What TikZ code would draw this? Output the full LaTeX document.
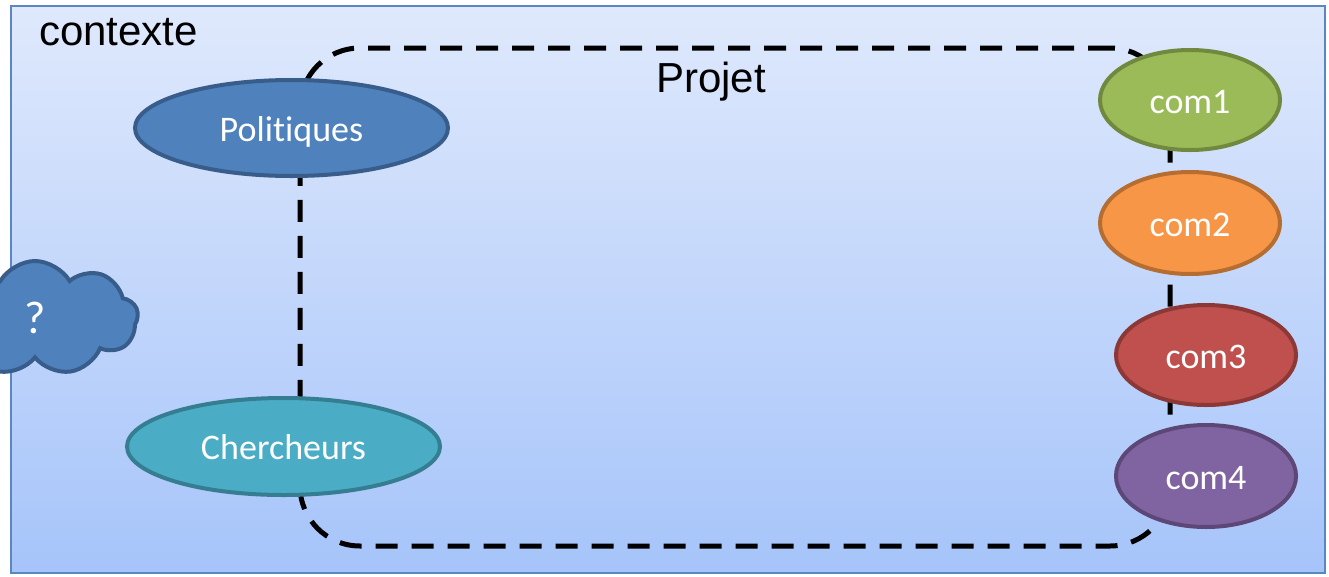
\documentclass[tikz,border=0pt]{standalone}
\usepackage{fontspec}
\setmainfont{Liberation Sans}
\newfontfamily\carlito[Ligatures=NoCommon]{Carlito}
\usetikzlibrary{shapes.geometric,shapes.symbols}
\definecolor{ctxtop}{HTML}{DFE9FC}
\definecolor{ctxbot}{HTML}{A6C4FA}
\definecolor{ctxline}{HTML}{5A86C2}
\definecolor{polfill}{HTML}{4F81BD}
\definecolor{polline}{HTML}{385D8A}
\definecolor{chefill}{HTML}{4BACC6}
\definecolor{cheline}{HTML}{357D91}
\definecolor{c1fill}{HTML}{9BBB59}
\definecolor{c1line}{HTML}{71893F}
\definecolor{c2fill}{HTML}{F79646}
\definecolor{c2line}{HTML}{B66D31}
\definecolor{c3fill}{HTML}{C0504D}
\definecolor{c3line}{HTML}{8C3836}
\definecolor{c4fill}{HTML}{8064A2}
\definecolor{c4line}{HTML}{5C4776}
\tikzset{
  ctxbox/.style={rectangle, draw=ctxline, line width=1.5pt, top color=ctxtop, bottom color=ctxbot, inner sep=0pt},
  bigtext/.style={font=\fontsize{42}{48}\selectfont, text=black, inner sep=0pt},
  projbox/.style={rectangle, draw=black, line width=5pt, rounded corners=60pt, dash pattern=on 22pt off 14pt, inner sep=0pt},
  oval/.style={ellipse, line width=4pt, inner sep=0pt, text=white, text height=26pt, text depth=0pt, font=\carlito\fontsize{36}{40}\selectfont},
  cloudnode/.style={cloud, cloud puffs=9, cloud puff arc=120, aspect=1.8, fill=polfill, draw=polline, line width=4pt, inner sep=0pt, text=white, font=\carlito\fontsize{46}{50}\selectfont}
}
\begin{document}
\begin{tikzpicture}[x=1pt,y=-1pt]
\useasboundingbox (0,0) rectangle (1329,576);
\clip (0,0) rectangle (1329,576);
\node[ctxbox, minimum width=1314pt, minimum height=567pt] (ctx) at (668,289.5) {};
\node[bigtext, anchor=base west] (ctxlabel) at (39,45) {contexte};
\node[projbox, minimum width=870pt, minimum height=498pt] (projet) at (735,297) {};
\node[bigtext, anchor=base west] (projlabel) at (656,92) {Projet};
\node[oval, fill=polfill, draw=polline, minimum width=313pt, minimum height=96pt] (pol) at (291.5,128) {Politiques};
\node[oval, fill=chefill, draw=cheline, minimum width=313pt, minimum height=97pt] (che) at (283.5,446.5) {Chercheurs};
\node[oval, fill=c1fill, draw=c1line, minimum width=180pt, minimum height=100pt] (com1) at (1190,100) {com1};
\node[oval, fill=c2fill, draw=c2line, minimum width=180pt, minimum height=102pt] (com2) at (1190,223) {com2};
\node[oval, fill=c3fill, draw=c3line, minimum width=180pt, minimum height=100pt] (com3) at (1206,355) {com3};
\node[oval, fill=c4fill, draw=c4line, minimum width=180pt, minimum height=102pt] (com4) at (1206,476) {com4};
\node[cloudnode, minimum width=206pt, minimum height=114pt] (q) at (35,318) {?};
\end{tikzpicture}
\end{document}
